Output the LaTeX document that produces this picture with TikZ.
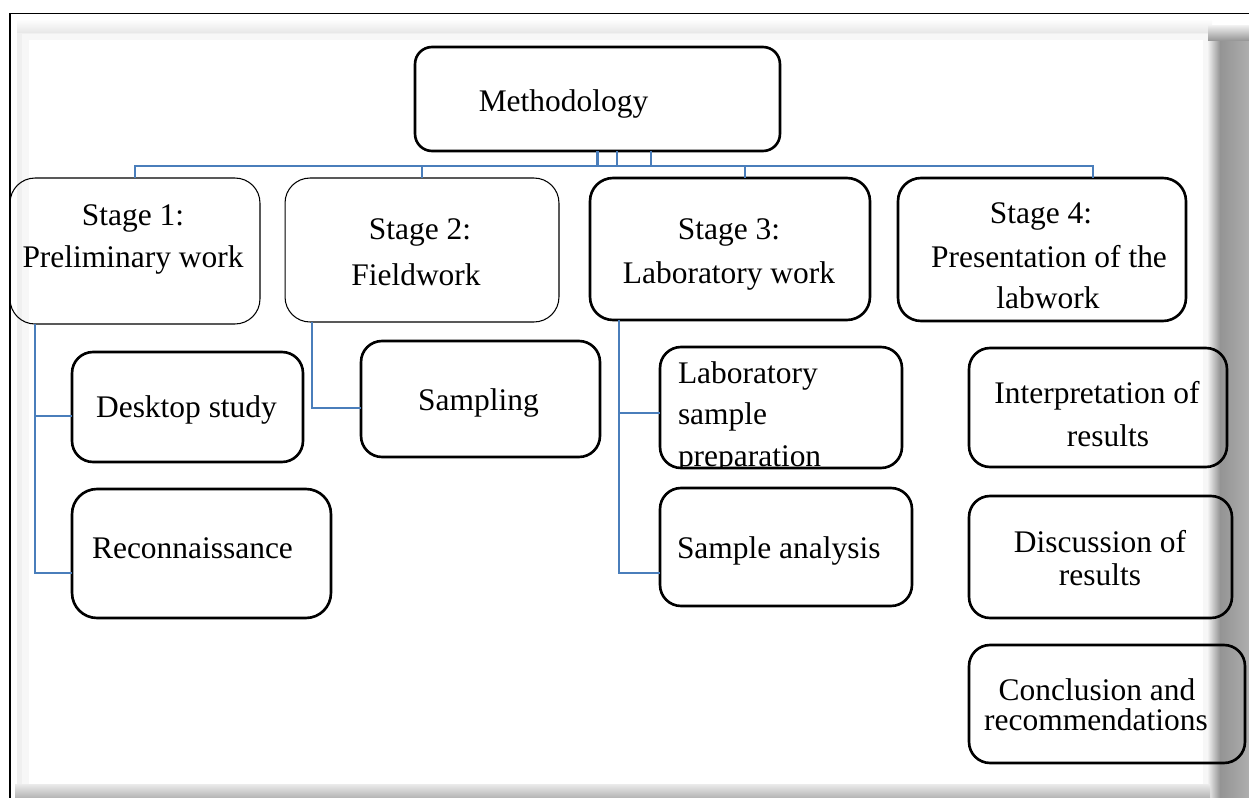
\documentclass[tikz,border=0pt]{standalone}
\usepackage{fontspec}
\setmainfont{Liberation Serif}
\definecolor{connblue}{RGB}{74,126,187}
\tikzset{
  box/.style={draw=black, line width=1.5pt, rounded corners=0.42cm, inner sep=0pt, outer sep=0pt},
  thinbox/.style={box, line width=0.6pt, rounded corners=0.5cm},
  lbl/.style={font=\fontsize{17.9pt}{21pt}\selectfont, inner sep=0pt, outer sep=0pt, anchor=base},
  lblw/.style={lbl, anchor=base west},
  conn/.style={draw=connblue, line width=1.4pt},
}
\begin{document}
\begin{tikzpicture}[x=0.02cm,y=-0.02cm]
\useasboundingbox (0,0) rectangle (1249,798);
\clip (0,0) rectangle (1249,798);
% shadowed panel
\fill[black!6] (17,21) rectangle (1212,792);
\shade[top color=white, bottom color=black!9] (17,19) rectangle (1212,32);
\fill[black!3] (22,34) rectangle (1208,789);
\shade[left color=black!6, right color=black!42] (1208,40) rectangle (1220,798);
\shade[left color=black!42, right color=black!32] (1220,40) rectangle (1249,798);
\shade[top color=black!5, bottom color=black!40] (1208,25) rectangle (1249,40);
\shade[top color=black!8, bottom color=black!30] (15,784) rectangle (1210,798);
\fill[white] (29,40) rectangle (1203,784);
% outer frame
\draw[line width=0.95pt] (10,820) -- (10,13.5) -- (1260,13.5);

% boxes
\node[box, rounded corners=0.34cm, minimum width=7.3cm, minimum height=2.08cm] (meth) at (597.5,99) {};
\node[thinbox, minimum width=5.0cm, minimum height=2.92cm] (s1) at (135,251) {};
\node[thinbox, minimum width=5.48cm, minimum height=2.88cm] (s2) at (422,250) {};
\node[box, rounded corners=0.46cm, minimum width=5.6cm, minimum height=2.84cm] (s3) at (730,249) {};
\node[box, rounded corners=0.46cm, minimum width=5.76cm, minimum height=2.86cm] (s4) at (1042,249.5) {};
\node[box, minimum width=4.62cm, minimum height=2.2cm] (desk) at (187.5,407) {};
\node[box, rounded corners=0.5cm, minimum width=5.18cm, minimum height=2.58cm] (recon) at (201.5,553.5) {};
\node[box, minimum width=4.78cm, minimum height=2.32cm] (samp) at (480.5,399) {};
\node[box, minimum width=4.84cm, minimum height=2.42cm] (labprep) at (781,407.5) {};
\node[box, minimum width=5.04cm, minimum height=2.36cm] (sana) at (786,547) {};
\node[box, minimum width=5.16cm, minimum height=2.38cm] (interp) at (1098,407.5) {};
\node[box, minimum width=5.26cm, minimum height=2.44cm] (disc) at (1100.5,557) {};
\node[box, minimum width=5.52cm, minimum height=2.36cm] (concl) at (1107,704) {};

% labels
\node[lbl] (tmeth) at (563.5,111) {Methodology};
\node[lbl] (ts1a) at (133,225) {Stage 1:};
\node[lbl] (ts1b) at (133,267) {Preliminary work};
\node[lbl] (ts2a) at (420,239) {Stage 2:};
\node[lbl] (ts2b) at (416,285) {Fieldwork};
\node[lbl] (ts3a) at (729,239) {Stage 3:};
\node[lbl] (ts3b) at (729,283) {Laboratory work};
\node[lbl] (ts4a) at (1041,223) {Stage 4:};
\node[lbl] (ts4b) at (1049,267) {Presentation of the};
\node[lbl] (ts4c) at (1048,308) {labwork};
\node[lbl] (tdesk) at (186.5,417.5) {Desktop study};
\node[lbl] (trecon) at (192.5,558) {Reconnaissance};
\node[lbl] (tsamp) at (478.5,410.5) {Sampling};
\begin{scope}
  \clip (661,348) rectangle (901,466);
  \node[lblw] (tlab1) at (678,383) {Laboratory};
  \node[lblw] (tlab2) at (678,424) {sample};
  \node[lblw] (tlab3) at (678,466) {preparation};
\end{scope}
\node[lblw] (tsana) at (677,558) {Sample analysis};
\node[lbl] (tint1) at (1097,403) {Interpretation of};
\node[lbl] (tint2) at (1108,446) {results};
\node[lbl] (tdis1) at (1100,552) {Discussion of};
\node[lbl] (tdis2) at (1100,585) {results};
\node[lbl] (tcon1) at (1097,700) {Conclusion and};
\node[lbl] (tcon2) at (1096,730) {recommendations};

% top-level connectors
\coordinate (busL) at (135,166);
\coordinate (busR) at (1093,166);
\coordinate (m2) at (617,166);
\coordinate (m3) at (651,166);
\coordinate (d3) at (745,166);
\draw[conn] (s1.north -| busL) -- (busL) -- (busR) -- (s4.north -| busR);
\draw[conn] (meth.south) -- (meth.south |- busL);
\draw[conn] (meth.south -| m2) -- (m2);
\draw[conn] (meth.south -| m3) -- (m3);
\draw[conn] (s2.north) -- (s2.north |- busL);
\draw[conn] (d3) -- (s3.north -| d3);

% stage 1 children
\coordinate (k1a) at (35,416);
\coordinate (k1b) at (35,573);
\draw[conn] (s1.south -| k1a) -- (k1b) -- (recon.west |- k1b);
\draw[conn] (k1a) -- (desk.west |- k1a);
% stage 2 child
\coordinate (k2) at (312,408);
\draw[conn] (s2.south -| k2) -- (k2) -- (samp.west |- k2);
% stage 3 children
\coordinate (k3a) at (619,413);
\coordinate (k3b) at (619,573);
\draw[conn] (s3.south -| k3a) -- (k3b) -- (sana.west |- k3b);
\draw[conn] (k3a) -- (labprep.west |- k3a);
\end{tikzpicture}
\end{document}
